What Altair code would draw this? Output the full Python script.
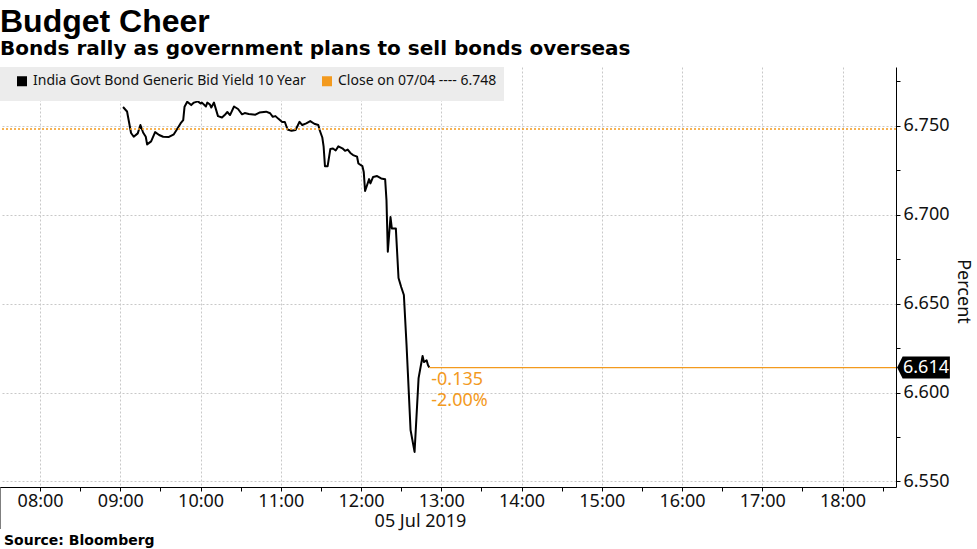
import altair as alt
import pandas as pd

TITLE = "Budget Cheer"
SUBTITLE = "Bonds rally as government plans to sell bonds overseas"
SOURCE = "Source: Bloomberg"
DATE_LABEL = "05 Jul 2019"
DAY = "2019-07-05"
SERIES = ["India Govt Bond Generic Bid Yield 10 Year", "Close on 07/04 ---- 6.748"]
COLORS = ["#000000", "#f39a1e"]

times = ["09:02", "09:05", "09:08", "09:10", "09:13", "09:15", "09:17", "09:19", "09:20", "09:23",
         "09:26", "09:29", "09:32", "09:36", "09:40", "09:42", "09:45", "09:47", "09:48", "09:50",
         "09:53", "09:55", "09:58", "10:00", "10:01", "10:04", "10:05", "10:07", "10:08", "10:10",
         "10:13", "10:16", "10:18", "10:20", "10:22", "10:25", "10:28", "10:31", "10:33", "10:36",
         "10:41", "10:44", "10:49", "10:52", "10:54", "10:56", "10:58", "11:01", "11:03", "11:05",
         "11:08", "11:11", "11:14", "11:16", "11:19", "11:22", "11:25", "11:28", "11:29", "11:31",
         "11:32", "11:33", "11:35", "11:37", "11:39", "11:41", "11:43", "11:46", "11:48", "11:50",
         "11:52", "11:54", "11:57", "11:58", "12:01", "12:02", "12:03", "12:06", "12:07", "12:09",
         "12:12", "12:15", "12:18", "12:19", "12:20", "12:22", "12:23", "12:26", "12:28", "12:30",
         "12:32", "12:34", "12:35", "12:37", "12:40", "12:43", "12:46", "12:47", "12:49", "12:50",
         "12:51"]

yields = [6.7604, 6.7579, 6.7458, 6.7437, 6.7456, 6.7503, 6.7461, 6.7437, 6.7394, 6.7411,
          6.7463, 6.7447, 6.7437, 6.7435, 6.7451, 6.7475, 6.7512, 6.7531, 6.7606, 6.7634,
          6.7615, 6.7629, 6.7636, 6.7624, 6.7629, 6.7607, 6.7629, 6.7618, 6.7601, 6.7629,
          6.7553, 6.7545, 6.7559, 6.7576, 6.7559, 6.7607, 6.7593, 6.7563, 6.7570, 6.7565,
          6.7561, 6.7573, 6.7578, 6.7569, 6.7549, 6.7553, 6.7539, 6.7520, 6.7520, 6.7478,
          6.7471, 6.7475, 6.7521, 6.7503, 6.7512, 6.7525, 6.7510, 6.7503, 6.7475, 6.7433,
          6.7381, 6.7272, 6.7272, 6.7368, 6.7371, 6.7360, 6.7383, 6.7372, 6.7358, 6.7365,
          6.7346, 6.7334, 6.7325, 6.7287, 6.7272, 6.7239, 6.7132, 6.7199, 6.7175, 6.7211,
          6.7216, 6.7203, 6.7198, 6.7081, 6.6791, 6.6986, 6.6922, 6.6922, 6.6643, 6.6593,
          6.6548, 6.6267, 6.6110, 6.5789, 6.5666, 6.6081, 6.6205, 6.6171, 6.6181, 6.6154,
          6.6140]

prev_close = 6.748
last_value = 6.614
change_labels = ["-0.135", "-2.00%"]

x_start = (7, 30)
x_end = (18, 40)
x_tick_times = [(h, m) for h in range(8, 19) for m in (0, 30)]
y_domain = [6.5469, 6.7829]
y_tick_values = [6.55, 6.575, 6.6, 6.625, 6.65, 6.675, 6.7, 6.725, 6.75, 6.775]


def dt(hm):
    return alt.DateTime(year=2019, month=7, date=5, hours=hm[0], minutes=hm[1])


def iso(hm_str):
    return f"{DAY}T{hm_str}:00"


end_str = f"{x_end[0]:02d}:{x_end[1]:02d}"
start_str = f"{x_start[0]:02d}:{x_start[1]:02d}"

line_df = pd.DataFrame({"time": [iso(t) for t in times], "yield": yields, "series": SERIES[0]})
close_df = pd.DataFrame({"yield": [prev_close], "series": [SERIES[1]]})
last_df = pd.DataFrame({"time": [iso(times[-1])], "end": [iso(end_str)], "yield": [last_value]})
tag_df = pd.DataFrame({"time": [iso(end_str)], "yield": [last_value], "label": [f"{last_value:.3f}"]})
chg1_df = pd.DataFrame({"time": [iso(times[-1])], "yield": [last_value], "text": [change_labels[0]]})
chg2_df = pd.DataFrame({"time": [iso(times[-1])], "yield": [last_value], "text": [change_labels[1]]})
start_df = pd.DataFrame({"time": [iso(start_str)]})
source_df = pd.DataFrame({"text": [SOURCE]})

ORANGE = COLORS[1]
LABEL_FONT = "Noto Sans"

xscale = alt.Scale(domain=[dt(x_start), dt(x_end)])
yscale = alt.Scale(domain=y_domain, nice=False, zero=False)
cscale = alt.Scale(domain=SERIES, range=COLORS)

x_axis = alt.Axis(
    values=[dt(t) for t in x_tick_times],
    labelExpr="minutes(datum.value) == 0 ? timeFormat(datum.value, '%H:%M') : ''",
    title=DATE_LABEL, titleX=420, titleY=39, titleAlign="center", titleBaseline="alphabetic",
    titleFont=LABEL_FONT, titleFontSize=18, titleFontWeight="normal", titleColor="#111",
    grid=True, gridDash=[2, 2], gridColor="#c8c8c8",
    gridOpacity={"condition": {"test": "minutes(datum.value) == 0", "value": 1}, "value": 0},
    tickSize=4, tickColor="#000", domainColor="#000", domainWidth=1,
    labelFont=LABEL_FONT, labelFontSize=18, labelColor="#111", labelPadding=1,
    labelFlush=False, labelOverlap=False,
)

y_axis = alt.Axis(
    orient="right",
    values=y_tick_values,
    labelExpr="abs(round(datum.value * 1000) % 50) == 0 ? format(datum.value, '.3f') : ''",
    title="Percent", titleX=61, titleY=224, titleAngle=90, titleAlign="center",
    titleBaseline="alphabetic", titleFont=LABEL_FONT, titleFontSize=18,
    titleFontWeight="normal", titleColor="#111",
    grid=True, gridDash=[2, 2], gridColor="#c8c8c8",
    gridOpacity={"condition": {"test": "abs(round(datum.value * 1000) % 50) == 0", "value": 1}, "value": 0},
    tickSize=4, tickColor="#000", domainColor="#000", domainWidth=1,
    labelFont=LABEL_FONT, labelFontSize=18, labelColor="#111", labelPadding=3,
    labelFlush=False, labelOverlap=False,
)

legend = alt.Legend(
    title=None, orient="top-left", offset=0, direction="horizontal",
    fillColor="#ececec", padding=7, symbolType="square", symbolSize=25,
    symbolOffset=8, symbolStrokeWidth=5, symbolOpacity=1,
    labelFont=LABEL_FONT, labelFontSize=14,
    labelColor="#111", columnPadding=6, labelOffset=4, labelLimit=500,
)

X = alt.X("time:T", scale=xscale, axis=x_axis)
Y = alt.Y("yield:Q", scale=yscale, axis=y_axis)
C = alt.Color("series:N", scale=cscale, legend=legend)

line = alt.Chart(line_df).mark_line(strokeWidth=2, strokeJoin="round").encode(x=X, y=Y, color=C)

close_rule = alt.Chart(close_df).mark_rule(strokeWidth=1.5, strokeDash=[2, 2]).encode(y=Y, color=C)

last_rule = alt.Chart(last_df).mark_rule(color=ORANGE, strokeWidth=1.2).encode(
    x=X, x2="end:T", y=Y,
)

tag_shape = "M0.1,0L0.6,-1L4.9,-1L4.9,1L0.6,1Z"
last_tag = alt.Chart(tag_df).mark_point(
    shape=tag_shape, size=484, filled=True, color="#000", opacity=1, strokeWidth=0
).encode(x=X, y=Y)
last_text = alt.Chart(tag_df).mark_text(
    align="left", baseline="middle", dx=7, font=LABEL_FONT, fontSize=18, color="#fff"
).encode(x=X, y=Y, text="label:N")

chg1 = alt.Chart(chg1_df).mark_text(
    align="left", baseline="middle", dx=2, dy=12, font=LABEL_FONT, fontSize=18, color=ORANGE
).encode(x=X, y=Y, text="text:N")
chg2 = alt.Chart(chg2_df).mark_text(
    align="left", baseline="middle", dx=2, dy=33, font=LABEL_FONT, fontSize=18, color=ORANGE
).encode(x=X, y=Y, text="text:N")

divider = alt.Chart(start_df).mark_rule(color="#000", strokeWidth=1).encode(
    x=X, y=alt.value(420), y2=alt.value(462),
)

source = alt.Chart(source_df).mark_text(
    align="left", baseline="alphabetic", font="DejaVu Sans", fontWeight="bold",
    fontSize=14, color="#000"
).encode(x=alt.value(4), y=alt.value(478), text="text:N")

chart = alt.layer(
    line, close_rule, last_rule, last_tag, last_text, chg1, chg2, divider, source
).properties(
    width=896, height=420,
    padding={"left": 0, "top": 67, "right": 81, "bottom": 62},
    autosize=alt.AutoSizeParams(type="none"),
    background="#ffffff",
    title=alt.TitleParams(
        TITLE, subtitle=SUBTITLE, anchor="start", frame="group",
        font="Liberation Sans", fontSize=32, fontWeight="bold", color="#000",
        subtitleFont="DejaVu Sans", subtitleFontSize=20, subtitleFontWeight="bold",
        subtitleColor="#000", subtitlePadding=0, offset=7,
    ),
).configure_view(stroke=None)

chart.save("out.html", embed_options={"renderer": "svg", "actions": False})
